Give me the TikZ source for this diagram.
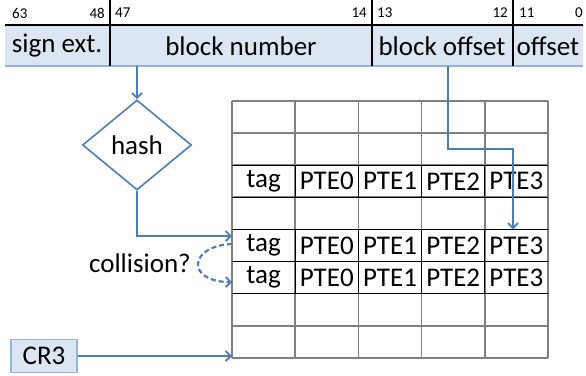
\documentclass[tikz,border=0pt]{standalone}
\usepackage{fontspec}
\setmainfont{Carlito}
\usetikzlibrary{shapes.geometric,arrows.meta}
\definecolor{ablue}{HTML}{4A7EBB}
\definecolor{lblue}{HTML}{95B3D7}
\definecolor{hfill}{HTML}{DCE6F2}
\definecolor{gridgray}{HTML}{7F7F7F}
\tikzset{
  big/.style={font=\fontsize{27}{29}\selectfont, inner sep=0pt},
  bitnum/.style={font=\fontsize{15}{16}\selectfont, inner sep=0pt},
  conn/.style={draw=ablue, line width=2.4pt, -{Straight Barb[length=5pt,width=10pt,line width=1.8pt]}},
  gridline/.style={draw=gridgray, line width=1.7pt},
  darkline/.style={draw=black, line width=1.3pt},
}
\begin{document}
\begin{tikzpicture}[x=1pt,y=-1pt]
\useasboundingbox (0,0) rectangle (586,375);
% header bar
\fill[hfill] (5,25) rectangle (583,66);
\draw[lblue, line width=1.5pt] (5,66) -- (583,66);
\draw[black, line width=1.2pt] (5,25) -- (583,25);
\foreach \x in {110,372,513} \draw[black, line width=1.2pt] (\x,0) -- (\x,66);
\node[big] (sign) at (57,46) {sign ext.};
\node[big] (bnum) at (241,46) {block number};
\node[big] (boff) at (442,46) {block offset};
\node[big] (off) at (548,46) {offset};
\node[bitnum, anchor=west] (b63) at (12,13) {63};
\node[bitnum, anchor=east] (b48) at (105,13) {48};
\node[bitnum, anchor=west] (b47) at (115,13) {47};
\node[bitnum, anchor=east] (b14) at (367,13) {14};
\node[bitnum, anchor=west] (b13) at (377,13) {13};
\node[bitnum, anchor=east] (b12) at (508,13) {12};
\node[bitnum, anchor=west] (b11) at (519,13) {11};
\node[bitnum, anchor=east] (b0) at (583,13) {0};
% table grid
\foreach \y in {101,133.1,165.2,197.3,229.4,261.5,293.6,325.7,357.8}
  \draw[gridline] (232,\y) -- (548,\y);
\foreach \x in {232,295.2,358.4,421.6,484.8,548}
  \draw[gridline] (\x,101) -- (\x,357.8);
% text rows, darker
\foreach \ya/\yb in {165.2/197.3,229.4/261.5,261.5/293.6}{
  \draw[darkline] (232,\ya) -- (548,\ya);
  \draw[darkline] (232,\yb) -- (548,\yb);
  \foreach \x in {295.2,358.4,421.6,484.8}
    \draw[darkline] (\x,\ya) -- (\x,\yb);
}
\foreach \r/\y in {a/181.25,b/245.45,c/277.55}{
  \node[big] (tag\r) at (263.6,\y) {tag};
  \node[big] (pz\r) at (326.8,\y) {PTE0};
  \node[big] (po\r) at (390,\y) {PTE1};
  \node[big] (pt\r) at (453.2,\y) {PTE2};
  \node[big] (ph\r) at (516.4,\y) {PTE3};
}
% hash diamond
\node[diamond, draw=ablue, line width=1.6pt, minimum width=109pt, minimum height=90pt, inner sep=0pt, font=\fontsize{27}{29}\selectfont] (hash) at (137,145) {hash};
\coordinate (bnout) at (137,66);
\draw[conn] (bnout) -- (hash.north);
\coordinate (rowb) at (232,236);
\draw[conn] (hash.south) |- (rowb);
% block offset route
\coordinate (boout) at (448,66);
\coordinate (pte3top) at (513,229.4);
\draw[conn] (boout) -- (448,149) -- (513,149) -- (pte3top);
% collision
\coordinate (colA) at (232,244);
\coordinate (colB) at (232,282);
\draw[draw=ablue, line width=2.2pt, dash pattern=on 5pt off 3pt, -{Straight Barb[length=5pt,width=10pt,line width=1.8pt]}] (colA) .. controls (188,246) and (186,282) .. (colB);
\node[big, anchor=east] (coll) at (191,263) {collision?};
% CR3
\node[draw=lblue, fill=hfill, line width=1.6pt, minimum width=66pt, minimum height=33pt, inner sep=0pt, font=\fontsize{27}{29}\selectfont] (cr3) at (44,356) {CR3};
\coordinate (tbot) at (232,356);
\draw[conn] (cr3.east) -- (tbot);
\end{tikzpicture}
\end{document}
